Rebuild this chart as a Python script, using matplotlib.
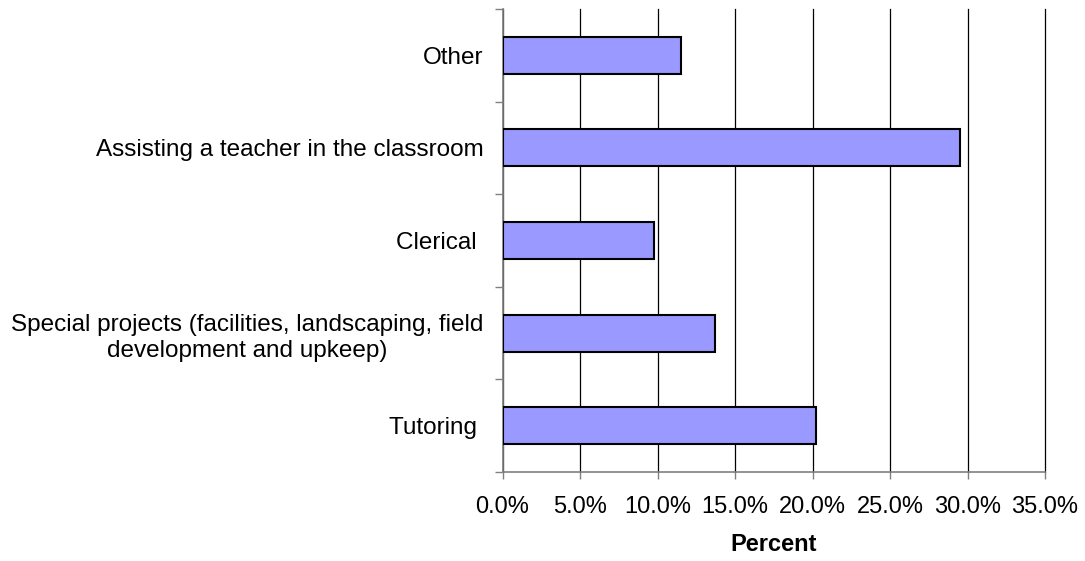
import matplotlib
matplotlib.use("Agg")
import matplotlib.pyplot as plt
from matplotlib.ticker import FuncFormatter, FixedLocator

categories = ["Tutoring ", "Special projects (facilities, landscaping, field\ndevelopment and upkeep)",
              "Clerical ", "Assisting a teacher in the classroom", "Other"]
values = [20.2, 13.7, 9.8, 29.5, 11.5]
xticks = [0, 5, 10, 15, 20, 25, 30, 35]

plt.rcParams['font.family'] = ['Liberation Sans', 'DejaVu Sans']

W, H = 1085, 561
fig = plt.figure(figsize=(W / 100, H / 100), dpi=100)
left, right, top, bottom = 502.5, 1045.0, 9, 472
ax = fig.add_axes([left / W, 1 - bottom / H, (right - left) / W, (bottom - top) / H])

ypos = list(range(len(categories)))
ax.barh(ypos, values, height=0.4, color="#9999FF", edgecolor="black", linewidth=1.5, zorder=3)

ax.set_xlim(0, 35)
ax.set_ylim(-0.5, len(categories) - 0.5)
ax.xaxis.set_major_locator(FixedLocator(xticks))
ax.xaxis.set_major_formatter(FuncFormatter(lambda v, p: f"{v:.1f}%"))
ax.grid(axis="x", color="black", linewidth=0.9, zorder=0)
for gl in ax.get_xgridlines():
    gl.set_clip_on(False)
ax.set_axisbelow(True)

# y ticks at category boundaries, labels at centers
ax.set_yticks([i - 0.5 for i in range(len(categories) + 1)])
ax.set_yticklabels([])
ax.set_yticks(ypos, minor=True)
ax.set_yticklabels(categories, minor=True, fontsize=17.5, multialignment="center", linespacing=1.25)
ax.tick_params(axis="y", which="minor", length=0, pad=13.5)
ax.tick_params(axis="y", which="major", length=6, width=1, color="#808080", direction="out")
ax.tick_params(axis="x", length=5, width=1, color="#808080", labelsize=17, pad=12)

for s in ["top", "right"]:
    ax.spines[s].set_visible(False)
for s in ["left", "bottom"]:
    ax.spines[s].set_color("#808080")
    ax.spines[s].set_linewidth(1.2)

ax.set_xlabel("Percent", fontsize=17, fontweight="bold", labelpad=11)

fig.savefig("out.png", dpi=100)
